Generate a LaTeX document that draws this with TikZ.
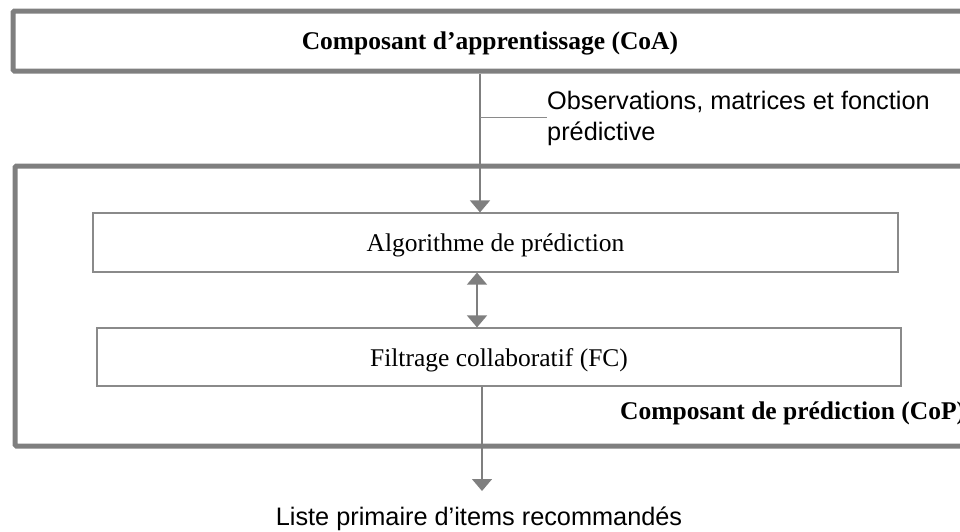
\documentclass[tikz,border=0pt]{standalone}
\usepackage{fontspec}
\setmainfont{Liberation Serif}
\newfontfamily\labelsans{Liberation Sans}
\usetikzlibrary{arrows.meta}
\definecolor{framegray}{HTML}{7F7F7F}
\definecolor{linegray}{HTML}{8A8A8A}
\begin{document}
\begin{tikzpicture}[x=1pt,y=-1pt,
  outerbox/.style={draw=framegray, line width=5pt, rounded corners=1.5pt, inner sep=0pt},
  innerbox/.style={draw=linegray, line width=1.2pt, inner sep=0pt,
    text height=20pt, text depth=1.6pt,
    font=\fontsize{25.5}{30}\selectfont},
  titletext/.style={inner sep=0pt, font=\fontsize{25.5}{30}\selectfont\bfseries},
  sanstext/.style={inner sep=0pt, font=\labelsans\fontsize{25.3}{30.5}\selectfont},
  conn/.style={draw=framegray, line width=1.4pt, -{Triangle[width=20pt,length=12pt]}},
  biconn/.style={draw=framegray, line width=1.4pt,
    {Triangle[width=20pt,length=12pt]}-{Triangle[width=20pt,length=12pt]}},
  thinline/.style={draw=linegray, line width=1pt}]
\useasboundingbox (0,0) rectangle (960,531);
% outer frames
\node[outerbox, minimum width=962pt, minimum height=60pt] (coa) at (494,41) {};
\node[titletext, anchor=base] (coaT) at (490,49) {Composant d’apprentissage (CoA)};
\node[outerbox, minimum width=960pt, minimum height=280pt] (cop) at (495,306) {};
\node[titletext, anchor=base west] (copT) at (620,419) {Composant de prédiction (CoP)};
% inner boxes
\node[innerbox, minimum width=805pt, minimum height=59pt] (algo) at (495.5,242.5) {Algorithme de prédiction};
\node[innerbox, minimum width=804pt, minimum height=58pt] (fc) at (499,357) {Filtrage collaboratif (FC)};
% label texts
\node[sanstext, anchor=north west, align=left] (obs) at (547,91.2) {Observations, matrices et fonction\\prédictive};
\node[sanstext, anchor=base] (liste) at (479,525) {Liste primaire d’items recommandés};
% coordinates
\coordinate (a1) at (480,0);
\coordinate (lj) at (480,117.5);
\coordinate (a2) at (477,0);
\coordinate (a3) at (482,0);
\coordinate (tip3) at (482,491);
% connectors
\draw[conn] (coa.south -| a1) -- (algo.north -| a1);
\draw[thinline] (lj) -- (lj -| obs.west);
\draw[biconn] (algo.south -| a2) -- (fc.north -| a2);
\draw[conn] (fc.south -| a3) -- (tip3);
\end{tikzpicture}
\end{document}
